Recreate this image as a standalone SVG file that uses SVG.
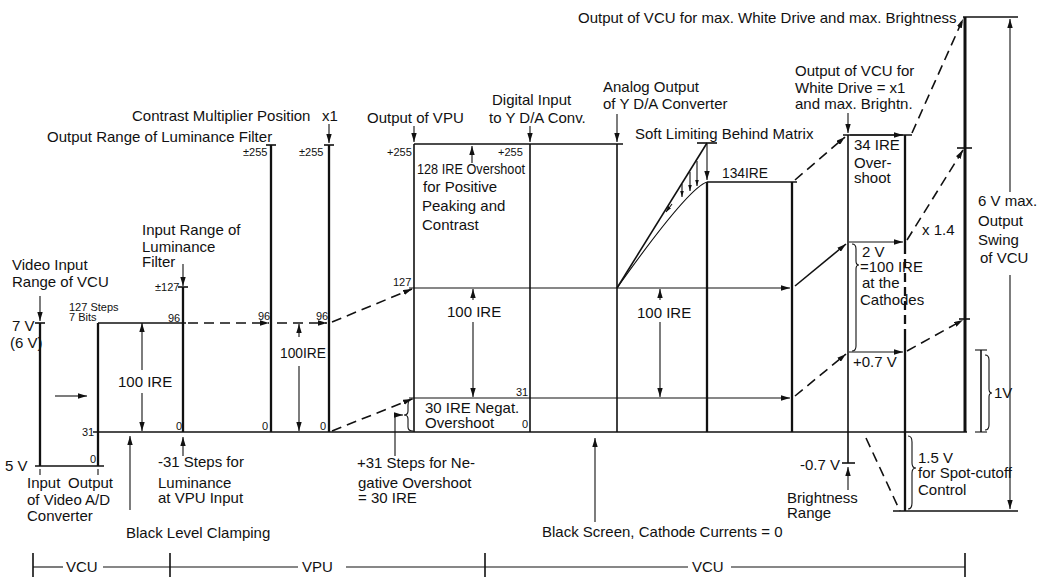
<svg xmlns="http://www.w3.org/2000/svg" width="1038" height="577" viewBox="0 0 1038 577">
<defs>
<style>
.t{font-family:"Liberation Sans",Arial,sans-serif;font-size:15px;fill:#111}
.s{font-size:11px}
.m{font-size:12px}
.l{stroke:#111;stroke-width:1.6;fill:none}
.b{stroke-width:2.3}
.bb{stroke-width:3}
.th{stroke-width:1.1}
.d{stroke-dasharray:10 6}
.a{marker-end:url(#ah)}
.aa{marker-start:url(#ah);marker-end:url(#ah)}
.sa{marker-end:url(#sh)}
</style>
<marker id="ah" viewBox="0 0 10 6" refX="10" refY="3" markerWidth="9" markerHeight="5.4" markerUnits="userSpaceOnUse" orient="auto-start-reverse"><path d="M0,0 L10,3 L0,6 z" fill="#111"/></marker>
<marker id="sh" viewBox="0 0 10 6" refX="10" refY="3" markerWidth="6" markerHeight="3.6" markerUnits="userSpaceOnUse" orient="auto"><path d="M0,0 L10,3 L0,6 z" fill="#111"/></marker>
</defs>
<rect width="1038" height="577" fill="#fff"/>

<g id="connectors">
<line class="l th a" x1="40" y1="296" x2="40" y2="321"/>
<line class="l" x1="35" y1="323" x2="45" y2="323"/>
<line class="l b" x1="40" y1="323" x2="40" y2="466"/>
<line class="l" x1="35" y1="466" x2="104" y2="466"/>
<line class="l b" x1="98" y1="323" x2="98" y2="466"/>
<line class="l th" x1="40" y1="469" x2="40" y2="475"/>
<line class="l th" x1="98" y1="469" x2="98" y2="475"/>
<line class="l th a" x1="55" y1="396" x2="87" y2="396"/>
<line class="l" x1="98" y1="323" x2="186" y2="323"/>
<line class="l th" x1="142" y1="323" x2="142" y2="370" style="marker-start:url(#ah)"/>
<line class="l th a" x1="142" y1="393" x2="142" y2="431"/>
<line class="l th a" x1="183" y1="264" x2="183" y2="286"/>
<line class="l" x1="178" y1="287" x2="188" y2="287"/>
<line class="l b" x1="183" y1="287" x2="183" y2="432"/>
<line class="l" x1="93" y1="432" x2="967" y2="432"/>
<line class="l th a" x1="130" y1="510" x2="130" y2="436"/>
<line class="l th a" x1="183" y1="456" x2="183" y2="437"/>
<line class="l d a" x1="188" y1="323" x2="269" y2="323"/>
<line class="l" x1="266" y1="145" x2="276" y2="145"/>
<line class="l b" x1="271" y1="145" x2="271" y2="432"/>
<line class="l d a" x1="277" y1="323" x2="327" y2="323"/>
<line class="l th a" x1="329" y1="124" x2="329" y2="143"/>
<line class="l" x1="324" y1="145" x2="334" y2="145"/>
<line class="l b" x1="329" y1="145" x2="329" y2="432"/>
<line class="l th" x1="299" y1="337" x2="299" y2="324" style="marker-end:url(#ah)"/>
<line class="l th a" x1="299" y1="366" x2="299" y2="431"/>
<line class="l d a" x1="332" y1="322" x2="412" y2="289"/>
<line class="l d a" x1="332" y1="431" x2="412" y2="399"/>
<line class="l" x1="414" y1="144" x2="623" y2="144"/>
<line class="l" x1="414" y1="144" x2="414" y2="432"/>
<line class="l" x1="530" y1="144" x2="530" y2="432"/>
<line class="l" x1="617" y1="144" x2="617" y2="432"/>
<line class="l th a" x1="414" y1="126" x2="414" y2="142"/>
<line class="l th a" x1="530" y1="126" x2="530" y2="142"/>
<line class="l th a" x1="617" y1="114" x2="617" y2="142"/>
<line class="l th a" x1="472" y1="163" x2="472" y2="146"/>
<line class="l th a" x1="409" y1="288" x2="790" y2="288"/>
<line class="l th a" x1="409" y1="398" x2="790" y2="398"/>
<line class="l th" x1="473" y1="300" x2="473" y2="289" style="marker-end:url(#ah)"/>
<line class="l th a" x1="473" y1="322" x2="473" y2="397"/>
<line class="l th" x1="660" y1="300" x2="660" y2="289" style="marker-end:url(#ah)"/>
<line class="l th a" x1="660" y1="322" x2="660" y2="397"/>
<path class="l th" d="M413,399 Q408,399 408,405 L408,411 Q408,415 404,415 Q408,415 408,419 L408,427 Q408,431 413,431"/>
<path class="l th a" d="M395,456 L395,415 L403,415"/>
<line class="l th a" x1="595" y1="522" x2="595" y2="438"/>
<line class="l" x1="617" y1="288" x2="707" y2="143"/>
<line class="l" x1="697" y1="143" x2="717" y2="143"/>
<line class="l th a" x1="707" y1="144" x2="707" y2="180"/>
<path class="l th" d="M617,288 Q688,188 707,182"/>
<line class="l th sa" x1="682" y1="184" x2="682" y2="197"/>
<line class="l th sa" x1="690" y1="172" x2="690" y2="191"/>
<line class="l th sa" x1="697" y1="161" x2="697" y2="186"/>
<line class="l th sa" x1="672" y1="204" x2="666" y2="212"/>
<line class="l" x1="707" y1="182" x2="797" y2="182"/>
<line class="l b" x1="707" y1="182" x2="707" y2="432"/>
<line class="l b" x1="792" y1="182" x2="792" y2="432"/>
<line class="l d a" x1="795" y1="180" x2="845" y2="137"/>
<line class="l a" x1="795" y1="286" x2="846" y2="244"/>
<line class="l d a" x1="795" y1="396" x2="846" y2="354"/>
<line class="l th a" x1="848" y1="113" x2="848" y2="133"/>
<line class="l" x1="843" y1="135" x2="912" y2="135"/>
<line class="l th a" x1="850" y1="135" x2="903" y2="135"/>
<line class="l" x1="848" y1="135" x2="848" y2="463"/>
<line class="l" x1="842" y1="463" x2="855" y2="463"/>
<line class="l th a" x1="848" y1="490" x2="848" y2="467"/>
<line class="l th a" x1="849" y1="242" x2="903" y2="242"/>
<line class="l th a" x1="849" y1="352" x2="903" y2="352"/>
<path class="l th" d="M852,244 Q856,244 856,249 L856,261 Q856,265 859,265 Q856,265 856,269 L856,346 Q856,351 852,351"/>
<line class="l b" x1="905" y1="135" x2="905" y2="245"/>
<line class="l b" x1="905" y1="245" x2="905" y2="330" style="stroke-dasharray:9 5"/>
<line class="l b" x1="905" y1="330" x2="905" y2="511"/>
<line class="l d a" x1="907" y1="240" x2="963" y2="150"/>
<line class="l d a" x1="912" y1="133" x2="963" y2="19"/>
<line class="l d a" x1="907" y1="351" x2="963" y2="320"/>
<line class="l" x1="957" y1="148" x2="972" y2="148"/>
<line class="l" x1="959" y1="319" x2="970" y2="319"/>
<line class="l bb" x1="965" y1="17" x2="965" y2="432"/>
<line class="l" x1="963" y1="17" x2="1018" y2="17"/>
<line class="l th a" x1="1010" y1="192" x2="1010" y2="19"/>
<line class="l th a" x1="1010" y1="275" x2="1010" y2="509"/>
<line class="l" x1="893" y1="511" x2="1018" y2="511"/>
<line class="l d" x1="866" y1="438" x2="900" y2="511"/>
<path class="l th" d="M908,436 Q912,436 912,442 L912,463 Q912,468 916,468 Q912,468 912,473 L912,503 Q912,509 908,509"/>
<line class="l" x1="981" y1="350" x2="981" y2="432"/>
<line class="l th" x1="975" y1="350" x2="987" y2="350"/>
<line class="l th" x1="975" y1="432" x2="987" y2="432"/>
<path class="l th" d="M985,355 Q989,355 989,360 L989,389 Q989,393 992,393 Q989,393 989,397 L989,425 Q989,430 985,430"/>
</g>

<g id="scale">
<line class="l" x1="33" y1="553" x2="33" y2="577"/>
<line class="l" x1="170" y1="553" x2="170" y2="577"/>
<line class="l" x1="485" y1="553" x2="485" y2="577"/>
<line class="l" x1="965" y1="553" x2="965" y2="577"/>
<line class="l th" x1="33" y1="567" x2="63" y2="567"/>
<line class="l th" x1="103" y1="567" x2="298" y2="567"/>
<line class="l th" x1="346" y1="567" x2="688" y2="567"/>
<line class="l th" x1="731" y1="567" x2="965" y2="567"/>
<text class="t" x="66" y="572">VCU</text>
<text class="t" x="302" y="572">VPU</text>
<text class="t" x="692" y="572">VCU</text>
</g>

<g id="labels">
<text class="t" x="578" y="23">Output of VCU for max. White Drive and max. Brightness</text>
<text class="t" x="795" y="76">Output of VCU for</text>
<text class="t" x="795" y="93">White Drive = x1</text>
<text class="t" x="795" y="109">and max. Brightn.</text>
<text class="t" x="603" y="92">Analog Output</text>
<text class="t" x="603" y="109">of Y D/A Converter</text>
<text class="t" x="492" y="105">Digital Input</text>
<text class="t" x="489" y="123">to Y D/A Conv.</text>
<text class="t" x="367" y="123">Output of VPU</text>
<text class="t" x="132" y="121">Contrast Multiplier Position <tspan x="322">x1</tspan></text>
<text class="t" x="47" y="142">Output Range of Luminance Filter</text>
<text class="t" x="635" y="139">Soft Limiting Behind Matrix</text>
<text class="t s" x="243" y="156">±255</text>
<text class="t s" x="299" y="156">±255</text>
<text class="t s" x="387" y="156">+255</text>
<text class="t s" x="498" y="156">+255</text>
<text class="t" x="417" y="174" textLength="108" lengthAdjust="spacingAndGlyphs">128 IRE Overshoot</text>
<text class="t" x="423" y="192">for Positive</text>
<text class="t" x="422" y="211">Peaking and</text>
<text class="t" x="422" y="230">Contrast</text>
<text class="t" x="722" y="178" textLength="46" lengthAdjust="spacingAndGlyphs">134IRE</text>
<text class="t" x="854" y="150">34 IRE</text>
<text class="t" x="854" y="168">Over-</text>
<text class="t" x="854" y="183">shoot</text>
<text class="t" x="978" y="206">6 V max.</text>
<text class="t" x="978" y="226">Output</text>
<text class="t" x="978" y="245">Swing</text>
<text class="t" x="980" y="263">of VCU</text>
<text class="t" x="922" y="235">x 1.4</text>
<text class="t" x="862" y="257">2 V</text>
<text class="t" x="860" y="272">=100 IRE</text>
<text class="t" x="862" y="288">at the</text>
<text class="t" x="860" y="305">Cathodes</text>
<text class="t" x="853" y="367">+0.7 V</text>
<text class="t" x="800" y="470">-0.7 V</text>
<text class="t" x="787" y="503">Brightness</text>
<text class="t" x="787" y="518">Range</text>
<text class="t" x="918" y="463">1.5 V</text>
<text class="t" x="918" y="478">for Spot-cutoff</text>
<text class="t" x="918" y="495">Control</text>
<text class="t" x="994" y="398">1V</text>
<text class="t" x="142" y="235">Input Range of</text>
<text class="t" x="142" y="252">Luminance</text>
<text class="t" x="142" y="267">Filter</text>
<text class="t" x="12" y="270">Video Input</text>
<text class="t" x="12" y="287">Range of VCU</text>
<text class="t s" x="155" y="291">±127</text>
<text class="t s" x="69" y="311">127 Steps</text>
<text class="t s" x="69" y="321">7 Bits</text>
<text class="t" x="12" y="331">7 V</text>
<text class="t" x="10" y="348">(6 V)</text>
<text class="t s" x="168" y="322">96</text>
<text class="t" x="118" y="387">100 IRE</text>
<text class="t s" x="82" y="436">31</text>
<text class="t s" x="90" y="463">0</text>
<text class="t s" x="176" y="430">0</text>
<text class="t" x="5" y="471">5 V</text>
<text class="t" x="27" y="488">Input <tspan x="68">Output</tspan></text>
<text class="t" x="27" y="505">of Video A/D</text>
<text class="t" x="27" y="521">Converter</text>
<text class="t" x="126" y="538">Black Level Clamping</text>
<text class="t" x="158" y="467">-31 Steps for</text>
<text class="t" x="158" y="488">Luminance</text>
<text class="t" x="158" y="503">at VPU Input</text>
<text class="t s" x="258" y="320">96</text>
<text class="t s" x="316" y="320">96</text>
<text class="t s" x="262" y="430">0</text>
<text class="t s" x="320" y="430">0</text>
<text class="t" x="280" y="358" textLength="46" lengthAdjust="spacingAndGlyphs">100IRE</text>
<text class="t s" x="393" y="286">127</text>
<text class="t" x="447" y="317">100 IRE</text>
<text class="t s" x="516" y="396">31</text>
<text class="t" x="425" y="413">30 IRE Negat.</text>
<text class="t" x="425" y="428">Overshoot</text>
<text class="t s" x="522" y="428">0</text>
<text class="t" x="357" y="468">+31 Steps for Ne-</text>
<text class="t" x="358" y="488">gative Overshoot</text>
<text class="t" x="358" y="503">= 30 IRE</text>
<text class="t" x="637" y="318">100 IRE</text>
<text class="t" x="542" y="537">Black Screen, Cathode  Currents = 0</text>
</g>
</svg>
